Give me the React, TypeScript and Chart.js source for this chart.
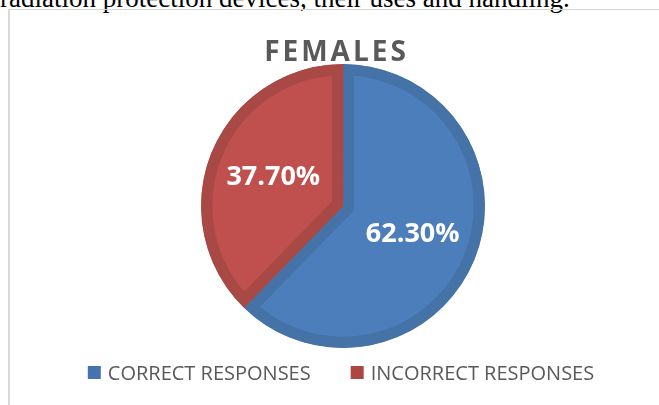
import React, { useEffect, useRef } from 'react';
import { Chart, registerables } from 'chart.js';

Chart.register(...registerables);

const CAPTION = 'radiation protection devices, their uses and handling.';
const TITLE = 'FEMALES';
const CATEGORIES = ['CORRECT RESPONSES', 'INCORRECT RESPONSES'];
const VALUES = [62.3, 37.7];
const FILL_COLORS = ['#4d7ebc', '#bf504d'];
const BAND_COLORS = ['#4572a7', '#a94946'];
const LEGEND_COLORS = ['#4673ad', '#ad4542'];

const FONT = '"Open Sans", "DejaVu Sans", sans-serif';

const titlePlugin = {
  id: 'customTitle',
  afterDraw(chart: any) {
    const ctx = chart.ctx;
    ctx.save();
    ctx.font = `bold 28px ${FONT}`;
    ctx.fillStyle = '#595959';
    ctx.textAlign = 'center';
    ctx.textBaseline = 'alphabetic';
    (ctx as any).letterSpacing = '3px';
    ctx.fillText(TITLE, 325 + 1.5, 51);
    ctx.restore();
  },
};

const sliceLabelPlugin = {
  id: 'sliceLabels',
  afterDatasetsDraw(chart: any) {
    const ctx = chart.ctx;
    const meta = chart.getDatasetMeta(0);
    ctx.save();
    ctx.font = `bold 27px ${FONT}`;
    ctx.fillStyle = '#ffffff';
    ctx.textAlign = 'center';
    ctx.textBaseline = 'middle';
    meta.data.forEach((arc: any, i: number) => {
      const p = arc.getProps(['x', 'y', 'startAngle', 'endAngle', 'outerRadius'], true);
      const mid = (p.startAngle + p.endAngle) / 2;
      const r = p.outerRadius * 0.53;
      const v = chart.data.datasets[0].data[i] as number;
      ctx.fillText(v.toFixed(2) + '%', p.x + Math.cos(mid) * r, p.y + Math.sin(mid) * r);
    });
    ctx.restore();
  },
};

const legendPlugin = {
  id: 'customLegend',
  afterDraw(chart: any) {
    const ctx = chart.ctx;
    ctx.save();
    ctx.font = `20px ${FONT}`;
    const box = 13;
    const gap = 7;
    const itemGap = 40;
    const labels: string[] = chart.data.labels;
    const widths = labels.map((l) => ctx.measureText(l).width);
    const total = widths.reduce((a, w) => a + box + gap + w, 0) + itemGap * (labels.length - 1);
    let x = 331 - total / 2;
    labels.forEach((l, i) => {
      ctx.fillStyle = LEGEND_COLORS[i];
      ctx.fillRect(x, 356, box, box);
      ctx.fillStyle = '#595959';
      ctx.textAlign = 'left';
      ctx.textBaseline = 'alphabetic';
      ctx.fillText(l, x + box + gap, 370);
      x += box + gap + widths[i] + itemGap;
    });
    ctx.restore();
  },
};

export default function App() {
  const ref = useRef<HTMLCanvasElement>(null);
  useEffect(() => {
    if (!ref.current) return;
    const chart = new Chart(ref.current, {
      type: 'pie',
      data: {
        labels: CATEGORIES,
        datasets: [
          {
            data: VALUES,
            backgroundColor: FILL_COLORS,
            borderColor: BAND_COLORS,
            borderWidth: 11,
            borderAlign: 'inner',
            borderJoinStyle: 'miter',
          } as any,
        ],
      },
      options: {
        animation: false,
        responsive: false,
        layout: { padding: { left: 17, top: 54, bottom: 57, right: 0 } },
        plugins: {
          legend: { display: false },
          title: { display: false },
          tooltip: { enabled: false },
        },
      },
      plugins: [sliceLabelPlugin, titlePlugin, legendPlugin],
    });
    return () => chart.destroy();
  }, []);

  return (
    <div style={{ position: 'fixed', left: 0, top: 0, width: 659, height: 405, background: '#fff', overflow: 'hidden' }}>
      <div
        style={{
          position: 'absolute',
          left: 0,
          top: -15,
          fontFamily: '"Liberation Serif", "Times New Roman", serif',
          fontSize: 27,
          lineHeight: '27px',
          whiteSpace: 'nowrap',
          color: '#000',
        }}
      >
        {CAPTION}
      </div>
      <div
        style={{
          position: 'absolute',
          left: 8,
          top: 9,
          width: 700,
          height: 500,
          borderTop: '1px solid #d4d4d4',
          borderLeft: '2px solid #dadada',
        }}
      />
      <canvas
        ref={ref}
        width={649}
        height={395}
        style={{ position: 'absolute', left: 10, top: 10, width: 649, height: 395, display: 'block' }}
      />
    </div>
  );
}
